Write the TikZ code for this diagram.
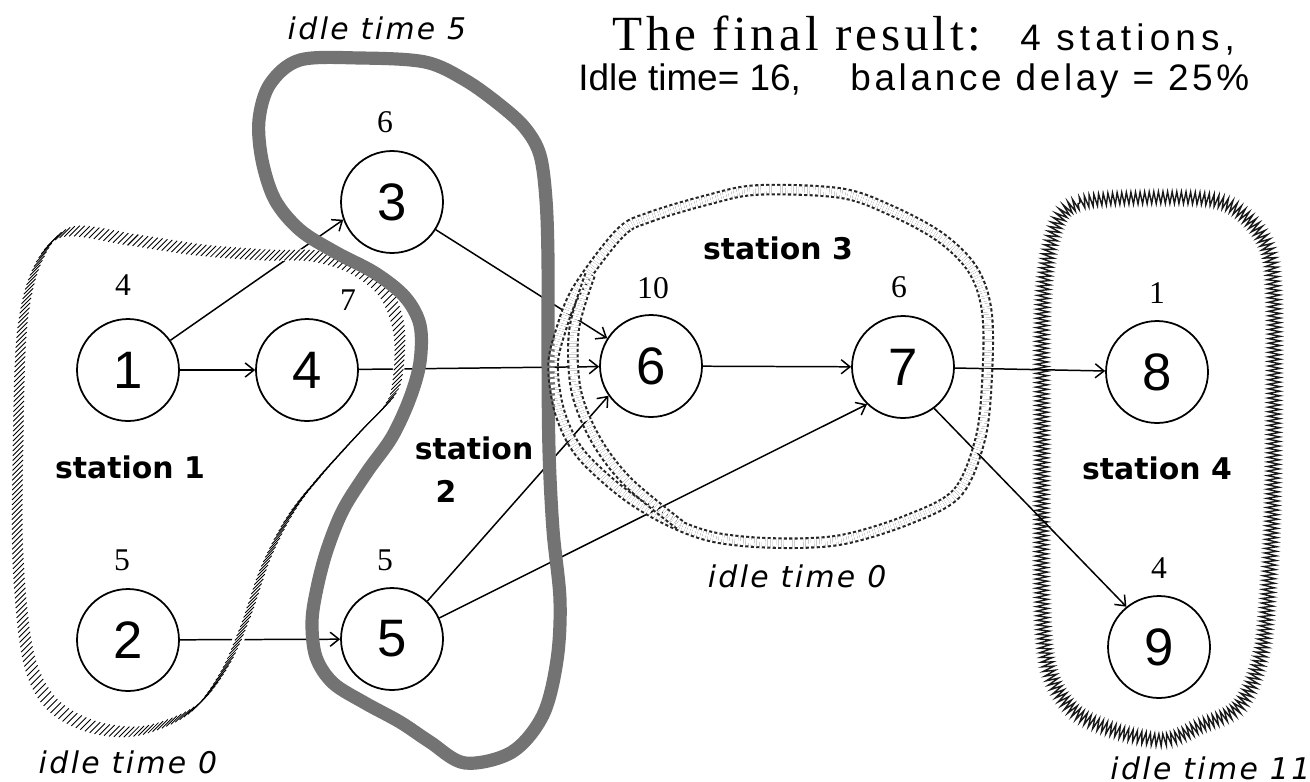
\documentclass[tikz,border=0pt]{standalone}
\usepackage{fontspec}
\setmainfont{Liberation Serif}
\newfontfamily\sansf{Liberation Sans}
\newfontfamily\sansA{Liberation Sans}[LetterSpace=10]
\newfontfamily\sansB{Liberation Sans}[LetterSpace=14]
\newfontfamily\djv{DejaVu Sans}
\newfontfamily\titlef{Liberation Serif}[LetterSpace=8]
\newfontfamily\idlef{DejaVu Sans}[LetterSpace=8]
\usetikzlibrary{arrows.meta,decorations.markings,decorations.pathmorphing}

\def\pathOne{plot[smooth cycle, tension=0.55] coordinates {(67,232) (133,240) (200,250) (267,255) (315,256) (355,268) (385,292) (399,330) (398,375) (390,400) (360,432) (322,474) (292,512) (266,562) (246,620) (224,670) (192,710) (140,731) (90,726) (50,702) (28,655) (18,560) (18,450) (22,330) (37,266)}}
\def\pathTwo{plot[smooth cycle, tension=0.55] coordinates {(300,60) (360,58) (425,62) (465,80) (500,105) (525,128) (540,155) (546,200) (548,260) (548,350) (549,450) (553,530) (560,600) (557,660) (543,715) (512,752) (465,763) (430,742) (400,722) (365,703) (333,683) (316,657) (312,622) (317,588) (327,550) (343,510) (367,472) (392,437) (410,398) (420,362) (420,325) (405,297) (375,273) (335,252) (300,230) (275,200) (262,160) (259,120) (270,84)}}
\def\pathThree{plot[smooth cycle, tension=0.55] coordinates {(620,233) (650,217) (707,200) (757,190) (840,193) (890,210) (940,237) (973,270) (987,313) (987,380) (980,440) (957,493) (907,520) (840,540) (773,543) (713,537) (667,520) (623,493) (580,453) (560,413) (553,367) (560,333) (577,290)}}
\def\pathThreeIn{plot[smooth, tension=0.55] coordinates {(590,275) (574,330) (576,390) (596,440) (628,482) (680,525)}}
\def\pathFour{plot[smooth cycle, tension=0.55] coordinates {(1056,226) (1080,203) (1140,198) (1213,200) (1247,218) (1268,250) (1274,300) (1274,400) (1273,487) (1270,563) (1262,650) (1240,705) (1200,726) (1163,740) (1113,730) (1073,710) (1049,670) (1042,600) (1042,450) (1043,300)}}

\begin{document}
\begin{tikzpicture}[x=0.02cm,y=-0.02cm,
  tnode/.style={circle, draw, line width=1pt, fill=white, minimum size=2.04cm, inner sep=0pt, font=\sansf\fontsize{30pt}{30pt}\selectfont},
  wlabel/.style={font=\fontsize{18pt}{18pt}\selectfont, inner sep=0pt},
  edge/.style={line width=0.85pt, -{Straight Barb[length=5pt,width=8pt]}},
  stlabel/.style={font=\djv\bfseries\fontsize{17pt}{20pt}\selectfont, inner sep=0pt},
  idle/.style={font=\idlef\itshape\fontsize{17pt}{17pt}\selectfont, inner sep=0pt},
  headsans/.style={anchor=base west, inner sep=0pt, font=\sansf\fontsize{21pt}{21pt}\selectfont},
  hatch/.style={postaction={decorate}, decoration={markings, mark=between positions 0 and 1 step 2.8pt with {\pgftransformresetnontranslations \draw[line width=0.5pt] (-3pt,-3pt) -- (3pt,3pt);}}},
  dotband/.style={line width=1.2pt, double=white, double distance=4.2pt, dash pattern=on 1.8pt off 1.3pt, black!85},
]
\useasboundingbox (0,0) rectangle (1310,781);

% task nodes
\node[tnode] (n1) at (128,370) {1};
\node[tnode] (n4) at (307,370) {4};
\node[tnode] (n3) at (392,202) {3};
\node[tnode] (n2) at (128,640) {2};
\node[tnode] (n5) at (392,639) {5};
\node[tnode] (n6) at (651,366) {6};
\node[tnode] (n7) at (903,367) {7};
\node[tnode] (n8) at (1157,372) {8};
\node[tnode] (n9) at (1159,647) {9};

% task times
\node[wlabel] (w1) at (123,285) {4};
\node[wlabel] (w4) at (348,300) {7};
\node[wlabel] (w3) at (385,122) {6};
\node[wlabel] (w2) at (122,560) {5};
\node[wlabel] (w5) at (385,560) {5};
\node[wlabel] (w6) at (653,288) {10};
\node[wlabel] (w7) at (899,287) {6};
\node[wlabel] (w8) at (1157,293) {1};
\node[wlabel] (w9) at (1159,568) {4};

% station 4 outline (under the connectors)
\draw[white, line width=8pt] \pathFour;
\draw[decorate, decoration={zigzag, segment length=2.6pt, amplitude=3.4pt}, line width=0.8pt, black!90] \pathFour;

% connectors
\draw[edge] (n1.35) -- (n3.200);
\draw[edge] (n1) -- (n4);
\draw[edge] (n4) -- (n6);
\draw[edge] (n3) -- (n6);
\draw[edge] (n5.47) -- (n6.215);
\draw[edge] (n5.24) -- (n7.226);
\draw[edge] (n2) -- (n5);
\draw[edge] (n6) -- (n7);
\draw[edge] (n7) -- (n8);
\draw[edge] (n7.-53) -- (n9.129);

% station 1 outline (hatched)
\path[preaction={draw=white, line width=6.5pt}, hatch] \pathOne;
% station 2 outline
\draw[line width=7.5pt, black!55, line join=round] \pathTwo;
% station 3 outline
\draw[dotband] \pathThree;
\draw[dotband] \pathThreeIn;

% station labels
\node[stlabel] (s1) at (130,467) {station 1};
\node[stlabel] (s2a) at (474,448) {station};
\node[stlabel] (s2b) at (446,491) {2};
\node[stlabel] (s3) at (778,248) {station 3};
\node[stlabel] (s4) at (1157,468) {station 4};

% idle times
\node[idle] (i5) at (377,28) {idle time 5};
\node[idle] (i1) at (128,762) {idle time 0};
\node[idle] (i3) at (797,576) {idle time 0};
\node[idle, anchor=west] (i4) at (1110,768) {idle time 11};

% title
\node[anchor=base west, inner sep=0pt, font=\titlef\fontsize{28pt}{28pt}\selectfont] (title) at (612,50) {The final result:};
\node[headsans, font=\sansB\fontsize{21pt}{21pt}\selectfont] (nst) at (1020,50) {4 stations,};
\node[headsans] (idl) at (578,90) {Idle time= 16,};
\node[headsans, font=\sansA\fontsize{21pt}{21pt}\selectfont] (bal) at (850,90) {balance delay = 25\%};
\end{tikzpicture}
\end{document}
